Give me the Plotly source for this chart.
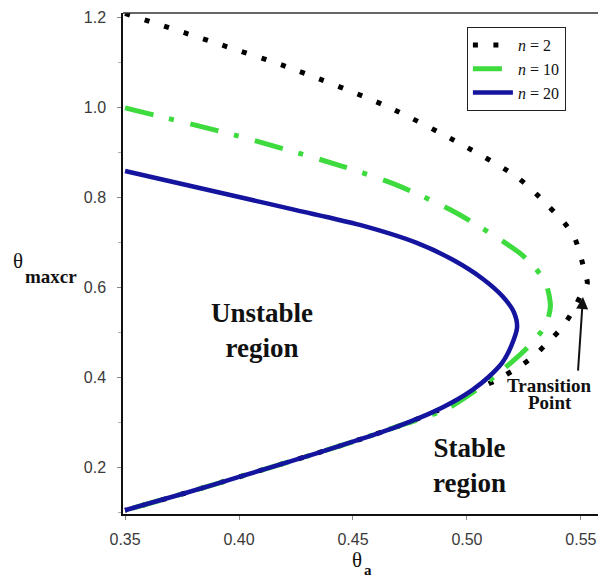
import plotly.graph_objects as go

# Critical amplitude boundary theta_maxcr versus theta_a for three values of n
theta_a_n2 = [0.350, 0.387, 0.424, 0.4655, 0.498, 0.522, 0.535, 0.5466, 0.5518, 0.5528,
              0.5505, 0.5466, 0.5417, 0.5355, 0.529, 0.522, 0.5136, 0.501, 0.4895, 0.470,
              0.454, 0.435, 0.400, 0.375, 0.350]
theta_max_n2 = [1.208, 1.147, 1.084, 1.000, 0.916, 0.844, 0.784, 0.716, 0.631, 0.608,
                0.587, 0.548, 0.510, 0.477, 0.445, 0.420, 0.395, 0.364, 0.331, 0.291,
                0.263, 0.232, 0.178, 0.140, 0.104]

theta_a_n10 = [0.350, 0.400, 0.4443, 0.469, 0.4956, 0.523, 0.530, 0.5345, 0.5362, 0.5366,
               0.5345, 0.5268, 0.514, 0.506, 0.4925, 0.479, 0.470, 0.454, 0.435, 0.400,
               0.375, 0.350]
theta_max_n10 = [0.998, 0.935, 0.870, 0.827, 0.764, 0.676, 0.642, 0.609, 0.578, 0.555,
                 0.515, 0.467, 0.409, 0.378, 0.333, 0.306, 0.291, 0.263, 0.232, 0.178,
                 0.140, 0.104]

theta_a_n20 = [0.350, 0.375, 0.400, 0.425, 0.453, 0.478, 0.494, 0.507, 0.5155, 0.5205,
               0.522, 0.5195, 0.5155, 0.5095, 0.5026, 0.494, 0.485, 0.470, 0.454, 0.435,
               0.400, 0.375, 0.350]
theta_max_n20 = [0.858, 0.829, 0.800, 0.771, 0.738, 0.698, 0.660, 0.618, 0.580, 0.545,
                 0.511, 0.470, 0.432, 0.400, 0.372, 0.345, 0.322, 0.291, 0.263, 0.232,
                 0.178, 0.140, 0.104]

series_names = ["<i>n</i> = 2", "<i>n</i> = 10", "<i>n</i> = 20"]
x_ticks = [0.35, 0.40, 0.45, 0.50, 0.55]
x_tick_text = ["0.35", "0.40", "0.45", "0.50", "0.55"]
y_ticks = [0.2, 0.4, 0.6, 0.8, 1.0, 1.2]
y_tick_text = ["0.2", "0.4", "0.6", "0.8", "1.0", "1.2"]

SERIF = "Liberation Serif"
SANS = "Liberation Sans"

fig = go.Figure()
fig.add_trace(go.Scatter(
    x=theta_a_n2, y=theta_max_n2, mode="lines", name=series_names[0],
    line=dict(color="#000000", width=5, dash="5px,15.5px", shape="spline", smoothing=0.8),
))
fig.add_trace(go.Scatter(
    x=theta_a_n10, y=theta_max_n10, mode="lines", name=series_names[1],
    line=dict(color="#3ddb3d", width=5, dash="29px,16px,5px,17px", shape="spline", smoothing=0.8),
))
fig.add_trace(go.Scatter(
    x=theta_a_n20, y=theta_max_n20, mode="lines", name=series_names[2],
    line=dict(color="#14149e", width=4.5, shape="spline", smoothing=0.8),
))

tick_font = dict(family=SANS, size=16, color="#3a3a3a")

fig.update_xaxes(
    range=[0.3491, 0.5575], tickvals=x_ticks, ticktext=x_tick_text,
    showline=True, linecolor="#111111", linewidth=1.5,
    ticks="outside", ticklen=4, tickcolor="#888888", tickwidth=1,
    tickfont=tick_font, showgrid=False, zeroline=False, ticklabelstandoff=6,
)
fig.update_yaxes(
    range=[0.0956, 1.209], tickvals=y_ticks, ticktext=y_tick_text,
    showline=True, linecolor="#111111", linewidth=1.5,
    ticks="outside", ticklen=4, tickcolor="#888888", tickwidth=1,
    minor=dict(dtick=0.1, tick0=0.1, ticks="outside", ticklen=3, tickcolor="#aaaaaa"),
    tickfont=tick_font, showgrid=False, zeroline=False, ticklabelstandoff=8,
)

# Top border of the frame
fig.add_shape(type="line", xref="paper", yref="paper", x0=0, x1=1, y0=1, y1=1,
              line=dict(color="#333333", width=1.5))

region_font = dict(family=SERIF, size=27, color="#111111")
label_font = dict(family=SERIF, size=19, color="#111111")
dark = "#111111"

annotations = [
    dict(x=0.4101, y=0.5044, xref="x", yref="y", text="<b>Unstable<br>region</b>",
         showarrow=False, font=region_font, align="center"),
    dict(x=0.5013, y=0.2044, xref="x", yref="y", text="<b>Stable<br>region</b>",
         showarrow=False, font=region_font, align="center"),
    dict(x=0.5364, y=0.382, xref="x", yref="y", text="<b>Transition</b>",
         showarrow=False, font=label_font),
    dict(x=0.5364, y=0.344, xref="x", yref="y", text="<b>Point</b>",
         showarrow=False, font=label_font),
    # Arrow marking the transition point on the n = 2 curve
    dict(x=0.5509, y=0.5778, xref="x", yref="y", ax=0.5487, ay=0.411,
         axref="x", ayref="y", text="", showarrow=True, arrowhead=2,
         arrowsize=1.2, arrowwidth=2, arrowcolor=dark),
    # Axis titles
    dict(x=-0.2221, y=0.505, xref="paper", yref="paper", text="\u03b8",
         xanchor="center", yanchor="middle", showarrow=False,
         font=dict(family=SERIF, size=21, color=dark)),
    dict(x=-0.1516, y=0.475, xref="paper", yref="paper", text="<b>maxcr</b>",
         xanchor="center", yanchor="middle", showarrow=False,
         font=dict(family=SERIF, size=19, color=dark)),
    dict(x=0.4916, y=-0.0928, xref="paper", yref="paper", text="\u03b8",
         xanchor="center", yanchor="middle", showarrow=False,
         font=dict(family=SERIF, size=21, color=dark)),
    dict(x=0.5168, y=-0.1118, xref="paper", yref="paper", text="<b>a</b>",
         xanchor="center", yanchor="middle", showarrow=False,
         font=dict(family=SERIF, size=15, color=dark)),
]
fig.update_layout(annotations=annotations)

fig.update_layout(
    width=598, height=580,
    margin=dict(l=123, r=0, t=13, b=66),
    paper_bgcolor="white", plot_bgcolor="white",
    showlegend=True,
    legend=dict(
        x=0.724, y=0.972, xanchor="left", yanchor="top",
        bgcolor="white", bordercolor="#222222", borderwidth=1,
        font=dict(family=SERIF, size=16, color=dark),
        tracegroupgap=0, itemwidth=40,
    ),
)

fig.write_html("out.html")
